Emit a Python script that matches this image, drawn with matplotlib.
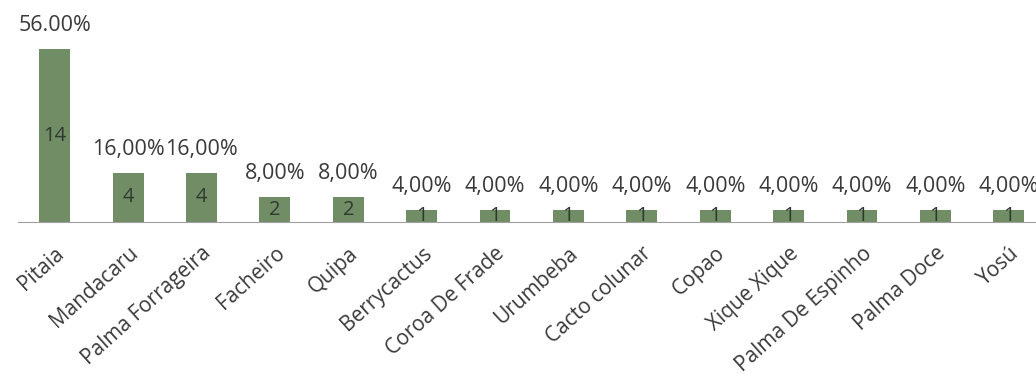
import matplotlib.pyplot as plt
import numpy as np

# species counts
species = ['Pitaia', 'Mandacaru', 'Palma Forrageira', 'Facheiro', 'Quipa',
           'Berrycactus', 'Coroa De Frade', 'Urumbeba', 'Cacto colunar',
           'Copao', 'Xique Xique', 'Palma De Espinho', 'Palma Doce', 'Yosú']
counts = [14, 4, 4, 2, 2, 1, 1, 1, 1, 1, 1, 1, 1, 1]
pct_labels = ['56.00%', '16,00%', '16,00%', '8,00%', '8,00%', '4,00%', '4,00%',
              '4,00%', '4,00%', '4,00%', '4,00%', '4,00%', '4,00%', '4,00%']

plt.rcParams['font.family'] = ['Open Sans', 'DejaVu Sans']

fig = plt.figure(figsize=(10.36, 3.76), dpi=100)
ax = fig.add_axes([18/1036, (376-222)/376, (1036-18)/1036, 212/376])

x = np.arange(len(species))
bars = ax.bar(x, counts, width=0.42, color='#718d65')

for xi, c, lab in zip(x, counts, pct_labels):
    ax.annotate(lab, (xi, c), xytext=(0, 17), textcoords='offset points',
                ha='center', va='center', fontsize=15.5, color='#3a3a3a')
    ax.text(xi, c / 2, str(c), ha='center', va='center', fontsize=14.5, color='#2f3a2f')

ax.set_xlim(-0.5, 13.37)
ax.set_ylim(0, 17.2)
ax.set_xticks(x)
ax.set_xticklabels(species, rotation=42, ha='right', rotation_mode='anchor',
                   fontsize=15, color='#3a3a3a')
ax.tick_params(axis='x', length=0, pad=15)
ax.set_yticks([])
for s in ['top', 'right', 'left']:
    ax.spines[s].set_visible(False)
ax.spines['bottom'].set_color('#a0a0a0')

fig.savefig('out.png', dpi=100)
